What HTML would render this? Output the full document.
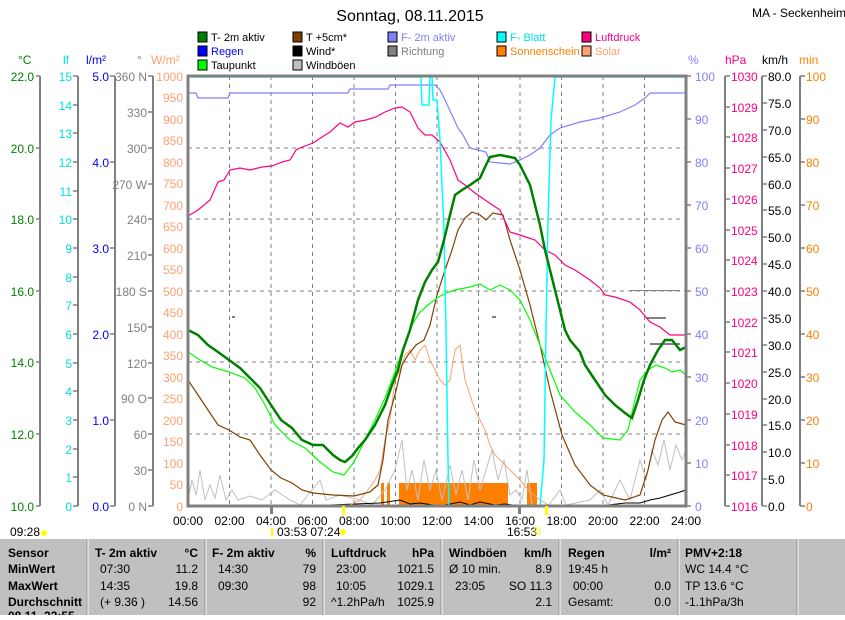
<!DOCTYPE html>
<html><head><meta charset="utf-8"><style>
body{margin:0;background:#fff;width:845px;height:615px;overflow:hidden;font-family:"Liberation Sans",sans-serif}
svg text{font-family:"Liberation Sans",sans-serif}
</style></head><body>
<svg width="845" height="615" viewBox="0 0 845 615" xmlns="http://www.w3.org/2000/svg">
<rect width="845" height="615" fill="#fff"/>
<text x="410" y="21" font-size="16" text-anchor="middle" fill="#000">Sonntag, 08.11.2015</text>
<text x="752" y="17" font-size="12" fill="#000">MA - Seckenheim</text>
<!-- legend -->
<g font-size="11">
<rect x="198" y="32" width="9" height="10" fill="#008000" stroke="#000"/><text x="211" y="41">T- 2m aktiv</text>
<rect x="293" y="32" width="9" height="10" fill="#804000" stroke="#000"/><text x="306" y="41">T +5cm*</text>
<rect x="388" y="32" width="9" height="10" fill="#8080ff" stroke="#000"/><text x="401" y="41" fill="#8080ff">F- 2m aktiv</text>
<rect x="497" y="32" width="9" height="10" fill="#00ffff" stroke="#000"/><text x="510" y="41" fill="#00e0e0">F- Blatt</text>
<rect x="582" y="32" width="9" height="10" fill="#ff0080" stroke="#000"/><text x="595" y="41" fill="#ff0080">Luftdruck</text>
<rect x="198" y="46" width="9" height="10" fill="#0000ff" stroke="#000"/><text x="211" y="55" fill="#0000ff">Regen</text>
<rect x="293" y="46" width="9" height="10" fill="#000" stroke="#000"/><text x="306" y="55">Wind*</text>
<rect x="388" y="46" width="9" height="10" fill="#808080" stroke="#000"/><text x="401" y="55" fill="#808080">Richtung</text>
<rect x="497" y="46" width="9" height="10" fill="#ff8000" stroke="#000"/><text x="510" y="55" fill="#ff8000">Sonnenschein</text>
<rect x="582" y="46" width="9" height="10" fill="#ffa070" stroke="#000"/><text x="595" y="55" fill="#ffa070">Solar</text>
<rect x="198" y="60" width="9" height="10" fill="#00ff00" stroke="#000"/><text x="211" y="69">Taupunkt</text>
<rect x="293" y="60" width="9" height="10" fill="#c0c0c0" stroke="#000"/><text x="306" y="69">Windböen</text>
</g>
<!-- units -->
<g font-size="12">
<text x="18" y="64" fill="#008000">°C</text>
<text x="63" y="64" fill="#00e0e0">lf</text>
<text x="86" y="64" fill="#0000ff">l/m²</text>
<text x="137" y="64" fill="#808080">°</text>
<text x="151" y="64" fill="#ffa070">W/m²</text>
<text x="688" y="64" fill="#8080ff">%</text>
<text x="725" y="64" fill="#ff0080">hPa</text>
<text x="762" y="64" fill="#000">km/h</text>
<text x="799" y="64" fill="#ff8000">min</text>
</g>
<!-- axis lines -->
<g stroke="#808080" stroke-width="2">
<line x1="40" y1="76" x2="40" y2="506"/><line x1="78" y1="76" x2="78" y2="506"/>
<line x1="115" y1="76" x2="115" y2="506"/><line x1="153" y1="76" x2="153" y2="506"/>
<line x1="725" y1="76" x2="725" y2="506"/><line x1="762" y1="76" x2="762" y2="506"/><line x1="800" y1="76" x2="800" y2="506"/>
</g>
<g font-size="12" text-anchor="end">
<g fill="#008000"><text x="34" y="81">22.0</text><text x="34" y="153">20.0</text><text x="34" y="224">18.0</text><text x="34" y="296">16.0</text><text x="34" y="367">14.0</text><text x="34" y="439">12.0</text><text x="34" y="511">10.0</text></g>
<g stroke="#808080" stroke-width="1.5"><path d="M36 76h4M36 148h4M36 219h4M36 291h4M36 362h4M36 434h4M36 506h4"/>
<path d="M73 76h5M73 105h5M73 133h5M73 162h5M73 191h5M73 219h5M73 248h5M73 277h5M73 305h5M73 334h5M73 363h5M73 391h5M73 420h5M73 449h5M73 477h5M73 506h5"/>
<path d="M110 76h5M110 162h5M110 248h5M110 334h5M110 420h5M110 506h5"/>
<path d="M148 76h5M148 112h5M148 148h5M148 184h5M148 219h5M148 255h5M148 291h5M148 327h5M148 363h5M148 398h5M148 434h5M148 470h5M148 506h5"/></g>
<g fill="#00e0e0"><text x="72" y="81">15</text><text x="72" y="110">14</text><text x="72" y="138">13</text><text x="72" y="167">12</text><text x="72" y="196">11</text><text x="72" y="224">10</text><text x="72" y="253">9</text><text x="72" y="282">8</text><text x="72" y="310">7</text><text x="72" y="339">6</text><text x="72" y="368">5</text><text x="72" y="396">4</text><text x="72" y="425">3</text><text x="72" y="454">2</text><text x="72" y="482">1</text><text x="72" y="511">0</text></g>
<g fill="#0000ff"><text x="109" y="81">5.0</text><text x="109" y="167">4.0</text><text x="109" y="253">3.0</text><text x="109" y="339">2.0</text><text x="109" y="425">1.0</text><text x="109" y="511">0.0</text></g>
<g fill="#808080"><text x="147" y="81">360 N</text><text x="147" y="117">330</text><text x="147" y="153">300</text><text x="147" y="189">270 W</text><text x="147" y="224">240</text><text x="147" y="260">210</text><text x="147" y="296">180 S</text><text x="147" y="332">150</text><text x="147" y="368">120</text><text x="147" y="403">90 O</text><text x="147" y="439">60</text><text x="147" y="475">30</text><text x="147" y="511">0 N</text></g>
<g fill="#ffa070"><text x="183" y="81">1000</text><text x="183" y="102">950</text><text x="183" y="124">900</text><text x="183" y="145">850</text><text x="183" y="167">800</text><text x="183" y="188">750</text><text x="183" y="210">700</text><text x="183" y="231">650</text><text x="183" y="253">600</text><text x="183" y="274">550</text><text x="183" y="296">500</text><text x="183" y="317">450</text><text x="183" y="339">400</text><text x="183" y="360">350</text><text x="183" y="382">300</text><text x="183" y="403">250</text><text x="183" y="425">200</text><text x="183" y="446">150</text><text x="183" y="468">100</text><text x="183" y="489">50</text><text x="183" y="511">0</text></g>
</g>
<g font-size="12">
<g stroke="#808080" stroke-width="1.5"><path d="M686 76h5M686 119h5M686 162h5M686 205h5M686 248h5M686 291h5M686 334h5M686 377h5M686 420h5M686 463h5M686 506h5"/>
<path d="M725 76h5M725 107h5M725 137h5M725 168h5M725 199h5M725 230h5M725 260h5M725 291h5M725 322h5M725 352h5M725 383h5M725 414h5M725 445h5M725 475h5M725 506h5"/>
<path d="M762 76h5M762 103h5M762 130h5M762 157h5M762 184h5M762 210h5M762 237h5M762 264h5M762 291h5M762 318h5M762 345h5M762 372h5M762 399h5M762 425h5M762 452h5M762 479h5M762 506h5"/>
<path d="M800 76h5M800 119h5M800 162h5M800 205h5M800 248h5M800 291h5M800 334h5M800 377h5M800 420h5M800 463h5M800 506h5"/></g>
<g fill="#8080ff"><text x="695" y="81">100</text><text x="695" y="124">90</text><text x="695" y="167">80</text><text x="695" y="210">70</text><text x="695" y="253">60</text><text x="695" y="296">50</text><text x="695" y="339">40</text><text x="695" y="382">30</text><text x="695" y="425">20</text><text x="695" y="468">10</text><text x="695" y="511">0</text></g>
<g fill="#ff0080"><text x="731" y="81">1030</text><text x="731" y="112">1029</text><text x="731" y="142">1028</text><text x="731" y="173">1027</text><text x="731" y="204">1026</text><text x="731" y="235">1025</text><text x="731" y="265">1024</text><text x="731" y="296">1023</text><text x="731" y="327">1022</text><text x="731" y="357">1021</text><text x="731" y="388">1020</text><text x="731" y="419">1019</text><text x="731" y="450">1018</text><text x="731" y="480">1017</text><text x="731" y="511">1016</text></g>
<g fill="#000"><text x="768" y="81">80.0</text><text x="768" y="108">75.0</text><text x="768" y="135">70.0</text><text x="768" y="162">65.0</text><text x="768" y="189">60.0</text><text x="768" y="215">55.0</text><text x="768" y="242">50.0</text><text x="768" y="269">45.0</text><text x="768" y="296">40.0</text><text x="768" y="323">35.0</text><text x="768" y="350">30.0</text><text x="768" y="377">25.0</text><text x="768" y="404">20.0</text><text x="768" y="430">15.0</text><text x="768" y="457">10.0</text><text x="768" y="484">5.0</text><text x="768" y="511">0.0</text></g>
<g fill="#ff8000"><text x="806" y="81">100</text><text x="806" y="124">90</text><text x="806" y="167">80</text><text x="806" y="210">70</text><text x="806" y="253">60</text><text x="806" y="296">50</text><text x="806" y="339">40</text><text x="806" y="382">30</text><text x="806" y="425">20</text><text x="806" y="468">10</text><text x="806" y="511">0</text></g>
</g>
<!-- grid -->
<g stroke="#808080" stroke-width="1" stroke-dasharray="4,4">
<path d="M229.5 76V506M271 76V506M312.5 76V506M354 76V506M395.5 76V506M437 76V506M478.5 76V506M520 76V506M561.5 76V506M603 76V506M644.5 76V506"/>
<path d="M188 148H686M188 219H686M188 291H686M188 362H686M188 434H686"/>
</g>
<!-- sunshine bars -->
<g fill="#ff8000"><rect x="381" y="483" width="3" height="23"/><rect x="387" y="483" width="3" height="23"/><rect x="399" y="483" width="109" height="23"/><rect x="527" y="483" width="10" height="23"/></g>
<!-- windboeen -->
<polyline fill="none" stroke="#c0c0c0" stroke-width="1" points="188,500 192,480 196,495 200,470 205,500 210,485 215,498 220,475 226,500 232,490 238,500 250,496 262,500 275,490 290,500 300,505 320,480 326,500 340,495 360,500 372,505 385,490 395,470 402,440 407,490 412,470 418,500 424,460 430,490 436,470 442,500 450,465 456,495 462,470 468,500 474,460 480,490 486,470 492,450 498,480 504,460 510,495 516,490 522,500 527,470 532,505 548,506 560,490 566,505 590,500 600,490 608,505 620,480 630,500 640,460 646,480 652,450 658,465 664,440 670,470 676,445 682,460 686,450"/>
<polyline fill="none" stroke="#000" stroke-width="1" points="188,505 300,505 330,505 380,503 400,500 410,504 420,503 440,506 460,502 470,505 480,502 495,505 505,504 520,506 600,506 625,503 640,503 650,500 660,498 670,495 680,492 686,490"/>
<!-- Richtung dots -->
<g fill="#808080"><rect x="232" y="316" width="3" height="2"/><rect x="492" y="316" width="4" height="2"/><rect x="646" y="317" width="20" height="2"/><rect x="650" y="343" width="30" height="2"/><rect x="630" y="290" width="50" height="1"/></g>
<!-- solar -->
<polyline fill="none" stroke="#ffa070" stroke-width="1" points="188,506 340,506 350,505 360,500 368,490 375,480 380,470 385,440 390,420 395,380 400,370 405,355 410,350 415,360 420,350 425,345 430,360 435,370 440,380 445,385 450,380 455,350 460,345 465,380 470,395 475,410 480,420 485,430 490,445 495,455 500,460 510,470 520,480 530,492 540,500 550,506 686,506"/>
<!-- T+5cm -->
<polyline fill="none" stroke="#804000" stroke-width="1.2" points="188,380 198,395 208,410 218,425 229,430 240,437 250,440 260,455 271,470 281,478 292,483 302,490 313,493 333,495 354,496 370,492 378,485 383,460 388,420 395,395 402,365 408,355 416,345 424,340 430,325 437,295 445,270 452,250 458,230 465,218 472,212 480,215 486,220 493,213 503,215 510,240 520,270 530,305 540,345 550,390 562,435 575,465 590,485 603,495 625,500 640,495 648,470 655,440 662,420 668,412 675,422 686,425"/>
<!-- taupunkt -->
<polyline fill="none" stroke="#00ff00" stroke-width="1.2" points="188,352 200,360 212,367 229,372 245,378 255,388 265,405 275,425 290,440 305,448 320,462 333,472 344,475 354,462 365,440 375,420 385,398 395,372 404,345 412,325 420,312 428,305 437,298 446,293 455,290 470,287 480,284 490,290 500,285 510,290 520,300 530,320 540,345 550,370 560,395 575,412 590,425 603,438 620,440 628,430 635,400 640,380 648,370 656,365 665,368 672,372 680,370 686,375"/>
<!-- pressure -->
<polyline fill="none" stroke="#ff0080" stroke-width="1.2" points="188,216 198,210 210,200 218,182 224,180 230,170 240,168 250,170 262,167 272,166 282,162 290,160 296,150 300,148 313,143 322,137 330,132 340,123 348,127 355,122 366,120 376,117 385,112 395,108 402,107 410,112 418,128 425,135 432,135 440,142 450,160 458,180 465,185 475,193 485,200 500,210 510,232 520,235 535,240 545,250 555,255 565,265 575,270 590,280 600,288 605,295 615,297 630,302 640,310 650,322 660,327 670,335 686,335"/>
<!-- F-2m -->
<polyline fill="none" stroke="#8080ff" stroke-width="1.2" points="188,93 196,93 198,98 228,98 230,93 348,93 350,89 388,89 390,85 435,85 440,90 445,100 452,115 458,128 463,135 470,148 478,150 486,152 490,162 510,164 520,160 530,155 540,148 550,135 560,128 580,122 600,118 620,112 635,105 645,98 650,93 686,93"/>
<!-- F-Blatt -->
<polyline fill="none" stroke="#00ffff" stroke-width="1.5" points="188,77 421,77 422,105 429,105 430,77 432,77 433,100 437,100 440,140 444,230 446,330 448,460 449,506 540,506 544,460 546,330 548,220 551,120 555,77 686,77"/>
<!-- T-2m -->
<polyline fill="none" stroke="#008000" stroke-width="2.5" points="188,330 198,335 208,345 218,352 229,360 240,368 250,378 260,388 271,405 281,420 292,428 302,440 313,445 323,445 333,455 340,460 345,462 352,456 358,448 365,440 375,425 385,405 392,385 398,370 403,350 410,330 418,300 425,282 432,270 438,262 444,240 450,215 455,195 462,190 470,185 480,178 486,165 490,157 500,155 515,158 520,165 530,185 540,225 545,250 550,270 555,290 560,310 565,330 570,340 580,352 585,365 595,380 605,395 615,405 625,413 632,418 638,400 644,380 650,365 658,350 665,340 672,340 680,350 686,347"/>
<!-- plot frame -->
<rect x="188" y="76" width="498" height="430" fill="none" stroke="#808080" stroke-width="3"/>
<!-- time labels -->
<g font-size="12" text-anchor="middle" fill="#000">
<text x="188" y="525">00:00</text><text x="229.5" y="525">02:00</text><text x="271" y="525">04:00</text><text x="312.5" y="525">06:00</text><text x="354" y="525">08:00</text><text x="395.5" y="525">10:00</text><text x="437" y="525">12:00</text><text x="478.5" y="525">14:00</text><text x="520" y="525">16:00</text><text x="561.5" y="525">18:00</text><text x="603" y="525">20:00</text><text x="644.5" y="525">22:00</text><text x="686" y="525">24:00</text>
</g>
<rect x="270" y="506" width="3" height="8" fill="#808080"/><rect x="342" y="506" width="3" height="9" fill="#ffff00"/><rect x="518" y="506" width="3" height="8" fill="#808080"/><rect x="545" y="506" width="3" height="9" fill="#ffff00"/>
<g font-size="12" fill="#000"><text x="10" y="536">09:28</text><text x="277" y="536">03:53  07:24</text><text x="507" y="536">16:53</text></g>
<circle cx="44" cy="533" r="3" fill="#ffff00"/><circle cx="343" cy="532" r="3" fill="#ffff00"/><rect x="535" y="528" width="5" height="6" fill="none" stroke="#ffff00"/><rect x="271" y="528" width="2" height="8" fill="#ffff00"/>
<!-- table -->
<rect x="0" y="538" width="845" height="77" fill="#c0c0c0"/>
<g stroke="#909090" stroke-width="1"><path d="M87 538V615M205 538V615M323 538V615M441 538V615M559 538V615M678 538V615M797 538V615"/></g>
<g stroke="#fff" stroke-width="1"><path d="M88 538V615M206 538V615M324 538V615M442 538V615M560 538V615M679 538V615M798 538V615M0 538.5H845"/></g>
<g font-size="12" fill="#000">
<g font-weight="bold"><text x="8" y="557">Sensor</text><text x="8" y="573">MinWert</text><text x="8" y="590">MaxWert</text><text x="8" y="606">Durchschnitt</text><text x="8" y="620">08.11. 23:55</text>
<text x="95" y="557">T- 2m aktiv</text><text x="198" y="557" text-anchor="end">°C</text>
<text x="212" y="557">F- 2m aktiv</text><text x="316" y="557" text-anchor="end">%</text>
<text x="331" y="557">Luftdruck</text><text x="434" y="557" text-anchor="end">hPa</text>
<text x="449" y="557">Windböen</text><text x="552" y="557" text-anchor="end">km/h</text>
<text x="568" y="557">Regen</text><text x="671" y="557" text-anchor="end">l/m²</text>
<text x="685" y="557">PMV+2:18</text></g>
<text x="100" y="573">07:30</text><text x="198" y="573" text-anchor="end">11.2</text>
<text x="100" y="590">14:35</text><text x="198" y="590" text-anchor="end">19.8</text>
<text x="100" y="606">(+ 9.36 )</text><text x="198" y="606" text-anchor="end">14.56</text>
<text x="218" y="573">14:30</text><text x="316" y="573" text-anchor="end">79</text>
<text x="218" y="590">09:30</text><text x="316" y="590" text-anchor="end">98</text>
<text x="316" y="606" text-anchor="end">92</text>
<text x="336" y="573">23:00</text><text x="434" y="573" text-anchor="end">1021.5</text>
<text x="336" y="590">10:05</text><text x="434" y="590" text-anchor="end">1029.1</text>
<text x="331" y="606">^1.2hPa/h</text><text x="434" y="606" text-anchor="end">1025.9</text>
<text x="449" y="573">Ø 10 min.</text><text x="552" y="573" text-anchor="end">8.9</text>
<text x="455" y="590">23:05</text><text x="552" y="590" text-anchor="end">SO 11.3</text>
<text x="552" y="606" text-anchor="end">2.1</text>
<text x="568" y="573">19:45 h</text>
<text x="573" y="590">00:00</text><text x="671" y="590" text-anchor="end">0.0</text>
<text x="568" y="606">Gesamt:</text><text x="671" y="606" text-anchor="end">0.0</text>
<text x="685" y="573">WC 14.4 °C</text><text x="685" y="590">TP 13.6 °C</text><text x="685" y="606">-1.1hPa/3h</text>
</g>
</svg>
</body></html>
